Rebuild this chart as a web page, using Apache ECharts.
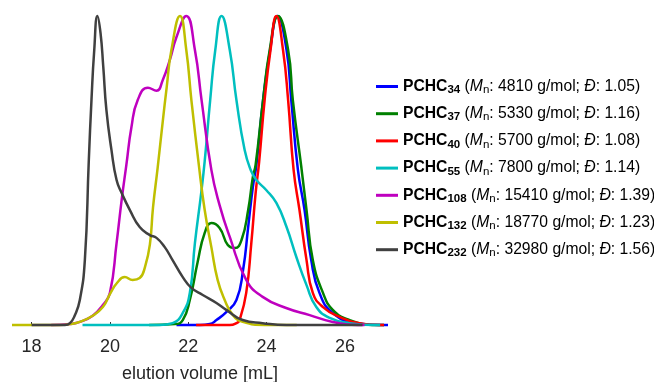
<!DOCTYPE html>
<html>
<head>
<meta charset="utf-8">
<script src="https://cdn.jsdelivr.net/npm/echarts@6/dist/echarts.min.js"></script>
<style>
  html, body { margin: 0; padding: 0; background: #fff; }
  #chart { width: 654px; height: 382px; }
</style>
</head>
<body>
<div id="chart"></div>
<script>
// elution volume [mL] vs normalised detector signal
const pchc34 = [[21.7,0],[22.3,0],[22.55,0.003],[22.72,0.016],[22.97,0.042],[23.23,0.081],[23.4,0.178],[23.53,0.317],[23.65,0.447],[23.74,0.518],[23.91,0.728],[24.09,0.89],[24.28,1.0],[24.51,0.89],[24.63,0.728],[24.8,0.502],[24.97,0.372],[25.14,0.21],[25.35,0.104],[25.69,0.039],[26.29,0.006],[27.0,0],[27.1,0]];
const pchc37 = [[21.0,0],[21.66,0.003],[21.86,0.016],[22.04,0.081],[22.24,0.204],[22.42,0.298],[22.59,0.33],[22.8,0.314],[23.01,0.259],[23.19,0.249],[23.36,0.275],[23.53,0.372],[23.65,0.479],[23.72,0.518],[23.91,0.728],[24.08,0.89],[24.29,1.0],[24.55,0.89],[24.67,0.728],[24.89,0.508],[25.02,0.372],[25.18,0.21],[25.44,0.104],[25.69,0.049],[26.12,0.016],[26.8,0],[27.0,0]];
const pchc40 = [[22.2,0],[23.06,0],[23.23,0.006],[23.31,0.016],[23.48,0.104],[23.61,0.265],[23.72,0.427],[23.81,0.528],[23.95,0.728],[24.1,0.89],[24.25,1.0],[24.42,0.89],[24.55,0.728],[24.69,0.502],[24.84,0.372],[25.02,0.21],[25.18,0.104],[25.44,0.058],[25.86,0.026],[26.37,0.006],[26.88,0],[27.0,0]];
const pchc55 = [[19.3,0],[21.27,0],[21.6,0.006],[21.86,0.039],[22.04,0.104],[22.17,0.265],[22.33,0.427],[22.42,0.53],[22.56,0.728],[22.69,0.89],[22.85,1.0],[23.06,0.89],[23.23,0.728],[23.44,0.566],[23.6,0.5],[23.74,0.469],[23.99,0.437],[24.25,0.395],[24.51,0.317],[24.76,0.22],[25.02,0.129],[25.27,0.058],[25.61,0.023],[26.12,0.006],[26.8,0],[26.9,0]];
const pchc108 = [[18.5,0],[18.98,0.003],[19.23,0.01],[19.56,0.03],[19.82,0.065],[20.0,0.104],[20.17,0.265],[20.3,0.405],[20.42,0.518],[20.55,0.641],[20.71,0.728],[20.97,0.768],[21.19,0.758],[21.35,0.793],[21.53,0.858],[21.7,0.932],[21.95,1.0],[22.17,0.89],[22.34,0.728],[22.59,0.502],[22.8,0.388],[23.06,0.285],[23.48,0.146],[23.9,0.091],[24.5,0.055],[25.1,0.032],[25.69,0.01],[26.45,0],[26.5,0]];
const pchc132 = [[17.5,0],[18.72,0],[18.98,0.003],[19.23,0.01],[19.56,0.03],[19.82,0.058],[20.0,0.1],[20.18,0.136],[20.38,0.155],[20.58,0.146],[20.76,0.152],[20.9,0.19],[21.02,0.26],[21.1,0.38],[21.22,0.51],[21.35,0.66],[21.45,0.77],[21.57,0.89],[21.79,1.0],[21.95,0.89],[22.08,0.728],[22.27,0.518],[22.42,0.372],[22.59,0.252],[22.75,0.146],[22.93,0.081],[23.14,0.032],[23.39,0.01],[23.95,0],[24.77,0]];
const pchc232 = [[18.0,0],[18.85,0],[18.98,0.006],[19.1,0.03],[19.23,0.08],[19.36,0.21],[19.46,0.53],[19.53,0.73],[19.6,0.89],[19.68,1.0],[19.76,0.945],[19.83,0.836],[19.91,0.696],[20.04,0.566],[20.17,0.469],[20.3,0.427],[20.51,0.372],[20.76,0.317],[21.02,0.291],[21.19,0.282],[21.4,0.252],[21.6,0.21],[21.86,0.155],[22.08,0.12],[22.37,0.097],[22.72,0.071],[22.97,0.049],[23.39,0.016],[23.9,0.006],[24.51,0],[26.45,0]];

const seriesNames = ["PCHC34", "PCHC37", "PCHC40", "PCHC55", "PCHC108", "PCHC132", "PCHC232"];
const dpValues = ["34", "37", "40", "55", "108", "132", "232"];
const mnValues = ["4810", "5330", "5700", "7800", "15410", "18770", "32980"];
const dispersity = ["1.05", "1.16", "1.08", "1.14", "1.39", "1.23", "1.56"];
const colors = ["#0000ff", "#008000", "#ff0000", "#00bfbf", "#bf00bf", "#bfbf00", "#404040"];
const traces = [pchc34, pchc37, pchc40, pchc55, pchc108, pchc132, pchc232];
const xTicks = [18, 20, 22, 24, 26];

const chart = echarts.init(document.getElementById("chart"));
const font = "'Liberation Sans', Arial, sans-serif";

const option = {
  animation: false,
  textStyle: { fontFamily: font },
  grid: { left: 12, right: 266, top: 16, bottom: 57, outerBoundsMode: "none", containLabel: false },
  legend: {
    orient: "vertical",
    left: 376,
    top: 77,
    padding: 0,
    icon: "rect",
    itemWidth: 22,
    itemHeight: 3,
    itemGap: 8.2,
    selectedMode: false,
    data: seriesNames,
    formatter: (name) => {
      const i = seriesNames.indexOf(name);
      return `{b|PCHC}{s|${dpValues[i]}}{t| (}{i|M}{n|n}{t|: ${mnValues[i]} g/mol; }{i|Đ}{t|: ${dispersity[i]})}`;
    },
    textStyle: {
      color: "#000",
      fontFamily: font,
      rich: {
        b: { fontSize: 15.7, fontWeight: "bold", color: "#000", lineHeight: 18, fontFamily: font },
        s: { fontSize: 11.5, fontWeight: "bold", color: "#000", padding: [7, 0, 0, 0], lineHeight: 18, fontFamily: font },
        t: { fontSize: 15.7, color: "#000", lineHeight: 18, fontFamily: font },
        i: { fontSize: 15.7, fontStyle: "italic", color: "#000", lineHeight: 18, fontFamily: font },
        n: { fontSize: 11.5, color: "#000", padding: [7, 0, 0, 0], lineHeight: 18, fontFamily: font },
      },
    },
  },
  xAxis: {
    type: "value",
    min: 17.5,
    max: 27.1,
    name: "elution volume [mL]",
    nameLocation: "middle",
    nameGap: 40,
    nameTextStyle: { fontSize: 18, color: "#262626", fontFamily: font },
    axisLine: { show: false },
    axisTick: {
      show: true,
      inside: true,
      length: 3,
      customValues: xTicks,
      lineStyle: { color: "#333", width: 1 },
    },
    axisLabel: {
      customValues: xTicks,
      fontSize: 18,
      color: "#262626",
      margin: 13,
      fontFamily: font,
    },
    splitLine: { show: false },
  },
  yAxis: {
    type: "value",
    min: 0,
    max: 1,
    show: false,
  },
  series: traces.map((d, i) => ({
    name: seriesNames[i],
    type: "line",
    data: d,
    clip: false,
    showSymbol: false,
    smooth: 0.5,
    color: colors[i],
    lineStyle: { color: colors[i], width: 2.5 },
    z: 2 + i,
  })),
};

chart.setOption(option);
</script>
</body>
</html>
